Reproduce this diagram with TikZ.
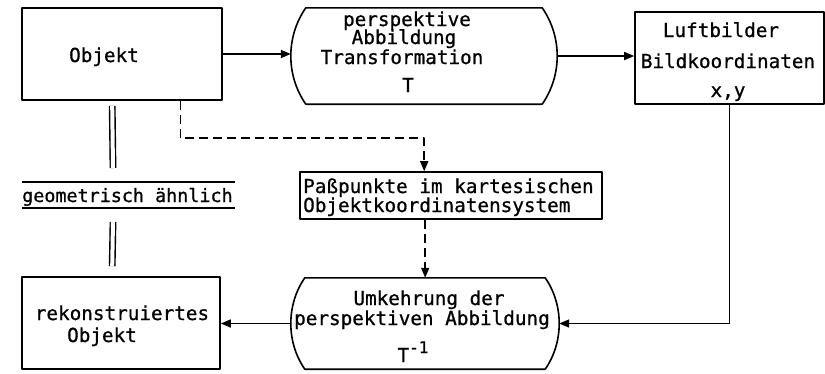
\documentclass[tikz,border=0pt]{standalone}
\usepackage{fontspec}
\newfontfamily\typer[FakeBold=0.8]{DejaVu Sans Mono}
\usetikzlibrary{arrows.meta,calc}

% outline of a flow-chart "lens": straight top and bottom, arc-shaped sides
% #1 node name, #2 corner inset, #3 vertical control offset
\newcommand\lensoutline[3]{%
  \draw[line] ($(#1.north west)+(#2,0)$) -- ($(#1.north east)+(-#2,0)$)
    .. controls ($(#1.north east)+(#2/3,#3)$) and ($(#1.south east)+(#2/3,-#3)$)
    .. ($(#1.south east)+(-#2,0)$)
    -- ($(#1.south west)+(#2,0)$)
    .. controls ($(#1.south west)+(-#2/3,-#3)$) and ($(#1.north west)+(-#2/3,#3)$)
    .. cycle;}

\begin{document}
\begin{tikzpicture}[x=1pt,y=-1pt,
  line/.style={line width=1.6pt, line join=round},
  box/.style={line, draw, rectangle, inner sep=0pt},
  lensarea/.style={rectangle, inner sep=0pt},
  arr/.style={line, -{Triangle[length=10pt,width=8pt]}},
  darr/.style={arr, dash pattern=on 9pt off 5pt},
  dbl/.style={line width=1.4pt, double, double distance=4pt},
  tx/.style={font=\typer\fontsize{19.3}{19.3}\selectfont, inner sep=0pt, anchor=base},
]
\useasboundingbox (0,0) rectangle (825,373);

% boxes
\node[box, minimum width=200pt, minimum height=92pt] (obj)  at (122,54)    {};
\node[box, minimum width=189pt, minimum height=92pt] (luft) at (729.5,58)  {};
\node[box, minimum width=302pt, minimum height=47pt] (pass) at (451,195.5) {};
\node[box, minimum width=198pt, minimum height=92pt] (rek)  at (121,323)   {};

% lens-shaped process blocks
\node[lensarea, minimum width=266pt, minimum height=96pt] (lensU) at (424,56)    {};
\node[lensarea, minimum width=268pt, minimum height=91pt] (lensL) at (425,323.5) {};
\lensoutline{lensU}{15}{29}
\lensoutline{lensL}{14}{27}

% texts
\node[tx] (tObj) at (104,62) {Objekt};

\node[tx] (tU1) at (407,26) {perspektive};
\node[tx] (tU2) at (404,44) {Abbildung};
\node[tx] (tU3) at (402,64) {Transformation};
\node[tx] (tU4) at (408,92) {T};

\node[tx] (tL1) at (721,37) {Luftbilder};
\node[tx] (tL2) at (728,68) {Bildkoordinaten};
\node[tx] (tL3) at (728,97) {x,y};

\node[tx, anchor=base west] (tP1) at (303,193) {Paßpunkte im kartesischen};
\node[tx, anchor=base west] (tP2) at (303,212) {Objektkoordinatensystem};

\node[tx] (tI1) at (429,305) {Umkehrung der};
\node[tx] (tI2) at (422,325) {perspektiven Abbildung};
\node[tx] (tI3) at (413,362) {T\raisebox{9pt}{\fontsize{16}{16}\selectfont -1}};

\node[tx] (tR1) at (122,320) {rekonstruiertes};
\node[tx] (tR2) at (102,342) {Objekt};

\node[tx, anchor=base west, font=\typer\fontsize{18.4}{18.4}\selectfont] (geo) at (22,202) {geometrisch ähnlich};
\draw[line] (22,182) -- (235,182);
\draw[line] (22,208) -- (235,208);

% "geometrically similar" double bars
\draw[dbl] ($(obj.south west)+(91,5)$) -- (113,168);
\draw[dbl] (113,222) -- ($(rek.north west)+(91,-10)$);

% main flow
\draw[arr] (obj.east) -- (obj.east -| lensU.west);
\draw[arr] (lensU.east) -- (lensU.east -| luft.west);
\draw[arr] (luft.south) |- (lensL.east);
\draw[arr] (lensL.west) -- (lensL.west -| rek.east);

% control points path
\coordinate (dA) at ($(obj.south west)!0.79!(obj.south east)$);
\coordinate (dB) at ($(pass.north west)+(125,0)$);
\coordinate (dC) at ($(pass.south west)+(126,0)$);
\draw[darr] (dA) -- ++(0,37) -| (dB);
\draw[darr] (dC) -- (dC |- lensL.north);
\end{tikzpicture}
\end{document}
